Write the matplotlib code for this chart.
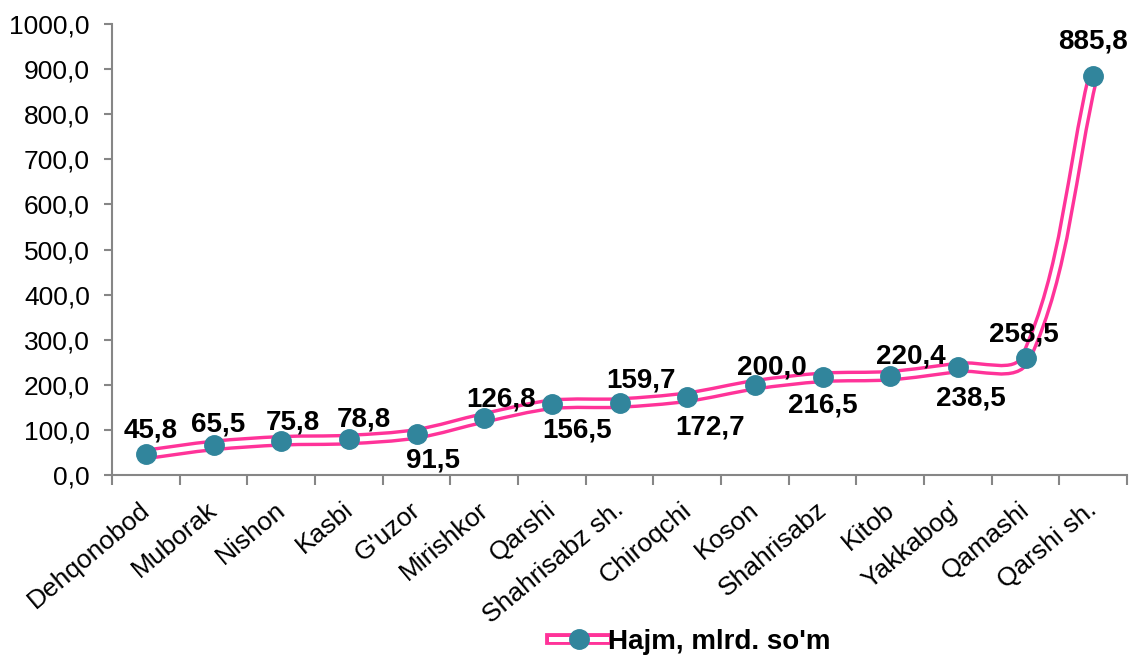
import numpy as np
import matplotlib.pyplot as plt
from matplotlib.path import Path
from matplotlib.patches import PathPatch
from matplotlib.lines import Line2D
from matplotlib.ticker import FuncFormatter
from matplotlib.transforms import ScaledTranslation

plt.rcParams['font.family'] = ['Liberation Sans', 'DejaVu Sans']

# --- data ---
districts = ["Dehqonobod", "Muborak", "Nishon", "Kasbi", "G'uzor", "Mirishkor",
             "Qarshi", "Shahrisabz sh.", "Chiroqchi", "Koson", "Shahrisabz",
             "Kitob", "Yakkabog'", "Qamashi", "Qarshi sh."]
hajm = [45.8, 65.5, 75.8, 78.8, 91.5, 126.8, 156.5, 159.7, 172.7, 200.0,
        216.5, 220.4, 238.5, 258.5, 885.8]
series_name = "Hajm, mlrd. so'm"

# label placement (above / below) and small pixel nudges
label_side = ['a', 'a', 'a', 'a', 'b', 'a', 'b', 'a', 'b', 'a', 'b', 'a', 'b', 'a', 'a']
label_dx = [5, 5, 12, 15, 16, 17, 25, 21, 23, 17, 0, 21, 13, -2, 0]
label_dy = [17, 14, 11, 13, 14, 11, 13, 15, 17, 10, 15, 12, 18, 17, 27]

pink = '#FF3399'
teal = '#31859C'
grey = '#868686'

def fmt(v):
    return f"{v:.1f}".replace('.', ',')

fig = plt.figure(figsize=(11.32, 6.65), dpi=100)
ax = fig.add_axes([0.099, 0.2857, 0.8966, 0.6782])

x = np.arange(len(hajm))
y = np.array(hajm)

ax.set_xlim(-0.5, len(hajm) - 0.5)
ax.set_ylim(0, 1000)

# smoothed line like Excel: bezier arms along the neighbour tangent,
# a third of the segment length, worked out in screen space
pts = ax.transData.transform(np.column_stack([x, y]))
ext = np.vstack([pts[0], pts, pts[-1]])
tang = ext[2:] - ext[:-2]
tang = tang / np.linalg.norm(tang, axis=1)[:, None]
verts = [pts[0]]
codes = [Path.MOVETO]
for i in range(len(pts) - 1):
    seg = np.linalg.norm(pts[i + 1] - pts[i]) / 3
    c1 = pts[i] + tang[i] * seg
    c2 = pts[i + 1] - tang[i + 1] * seg
    verts += [c1, c2, pts[i + 1]]
    codes += [Path.CURVE4] * 3
verts = ax.transData.inverted().transform(np.array(verts))
curve = Path(verts, codes)
ax.add_patch(PathPatch(curve, fill=False, edgecolor=pink, lw=8.5, capstyle='round', zorder=2))
ax.add_patch(PathPatch(curve, fill=False, edgecolor='white', lw=3.6, capstyle='round', zorder=3))
ax.plot(x, y, ls='none', marker='o', ms=14, color=teal, zorder=4)

# data labels
for xi, yi, side, dx, dy in zip(x, y, label_side, label_dx, label_dy):
    if side == 'a':
        off = dy
    else:
        off = -(dy + 20)
    ax.annotate(fmt(yi), (xi, yi), xytext=(dx * 0.72, off * 0.72),
                textcoords='offset points', ha='center', va='baseline',
                fontsize=20, fontweight='bold', zorder=5)

ax.set_yticks(np.arange(0, 1001, 100))
ax.yaxis.set_major_formatter(FuncFormatter(lambda v, p: fmt(v)))

ax.set_xticks(x)
ax.set_xticklabels(districts, rotation=40, ha='right', rotation_mode='anchor')
ax.set_xticks(np.arange(-0.5, len(hajm), 1), minor=True)
ax.tick_params(axis='x', which='major', length=0, pad=14, labelsize=19)
ax.tick_params(axis='x', which='minor', length=7, width=1.5, color=grey, direction='out')
ax.tick_params(axis='y', length=6, width=1.5, color=grey, labelsize=19, pad=10)
shift = ScaledTranslation(-0.07, -0.03, fig.dpi_scale_trans)
for lab in ax.get_xticklabels():
    lab.set_transform(lab.get_transform() + shift)

for s in ['top', 'right']:
    ax.spines[s].set_visible(False)
for s in ['left', 'bottom']:
    ax.spines[s].set_color(grey)
    ax.spines[s].set_linewidth(1.5)

# legend
h_out = Line2D([], [], color=pink, lw=8.5)
h_in = Line2D([], [], color='white', lw=3.6)
h_mk = Line2D([], [], ls='none', marker='o', ms=14, color=teal)
fig.legend([(h_out, h_in, h_mk)], [series_name], loc='center',
           bbox_to_anchor=(0.61, 0.035), frameon=False, handlelength=2.0,
           handletextpad=0.05, prop={'size': 20, 'weight': 'bold'})

fig.savefig('out.png', dpi=100)
